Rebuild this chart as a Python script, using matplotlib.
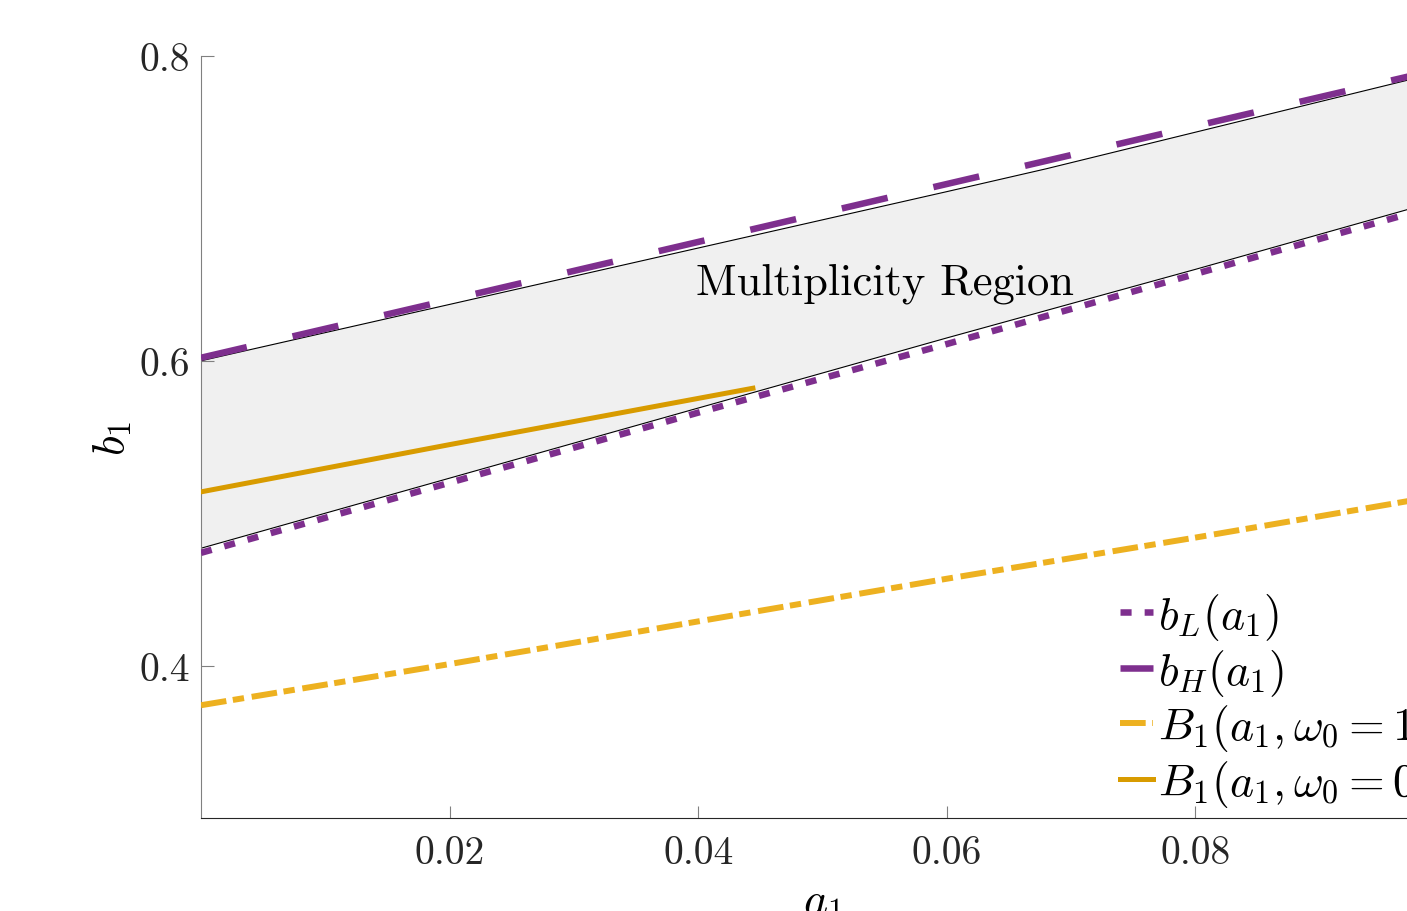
import numpy as np
import matplotlib
matplotlib.use('Agg')
import matplotlib.pyplot as plt

plt.rcParams['font.family'] = 'serif'
plt.rcParams['font.serif'] = ['cmr10', 'DejaVu Serif']
plt.rcParams['mathtext.fontset'] = 'cm'
plt.rcParams['axes.unicode_minus'] = False

# data
a1 = np.array([0.0, 0.02, 0.04, 0.06, 0.08, 0.10])
b_H = np.array([0.602, 0.640, 0.678, 0.716, 0.754, 0.792])
b_L = np.array([0.474, 0.520, 0.566, 0.611, 0.657, 0.703])
B1_w1 = np.array([0.374, 0.401, 0.429, 0.457, 0.484, 0.512])

a1_w0 = np.array([0.0, 0.02, 0.0444])
B1_w0 = np.array([0.514, 0.545, 0.582])

# boundary of the shaded region
a1_up = np.array([0.0, 0.02, 0.04, 0.06, 0.068, 0.08, 0.10])
upper = np.array([0.600, 0.637, 0.674, 0.711, 0.726, 0.750, 0.790])
a1_lo = np.array([0.0, 0.02, 0.04, 0.06, 0.08, 0.10])
lower = np.array([0.477, 0.523, 0.569, 0.615, 0.660, 0.706])

purple = '#7E2F8E'
yellow = '#EDB120'
dark_yellow = '#D89B00'
axc = '#262626'

fig = plt.figure(figsize=(14.07, 9.12), dpi=100)
ax = fig.add_axes([201/1407, 93/912, 1243/1407, 762/912])

poly_x = np.concatenate([a1_up, a1_lo[::-1]])
poly_y = np.concatenate([upper, lower[::-1]])
ax.fill(poly_x, poly_y, color='#F0F0F0', lw=0, zorder=1)
ax.plot(a1_up, upper, color='black', lw=0.8, zorder=2)
ax.plot(a1_lo, lower, color='black', lw=0.8, zorder=2)

l1, = ax.plot(a1, b_L, color=purple, lw=4.7, ls=(0, (1.7, 2.0)),
              dash_capstyle='butt', label=r'$b_L(a_1)$', zorder=3)
l2, = ax.plot(a1, b_H, color=purple, lw=4.7, ls=(0, (7.2, 7.2)),
              dash_capstyle='butt', label=r'$b_H(a_1)$', zorder=3)
l3, = ax.plot(a1, B1_w1, color=yellow, lw=4.3, ls=(0, (4.3, 1.1, 1.9, 1.3)),
              dash_capstyle='butt', label=r'$B_1(a_1,\omega_0=1)$', zorder=3)
l4, = ax.plot(a1_w0, B1_w0, color=dark_yellow, lw=3.6,
              label=r'$B_1(a_1,\omega_0=0)$', zorder=3)

ax.text(0.055, 0.651, 'Multiplicity Region', fontsize=32,
        ha='center', va='center', zorder=4)

ax.set_xlim(0, 0.1)
ax.set_ylim(0.3, 0.8)
ax.set_xticks([0.02, 0.04, 0.06, 0.08])
ax.set_xticklabels(['0.02', '0.04', '0.06', '0.08'])
ax.set_yticks([0.4, 0.6, 0.8])
ax.set_yticklabels(['0.4', '0.6', '0.8'])
ax.tick_params(direction='in', length=9, width=0.8, color='#808080',
               labelsize=28.5, labelcolor=axc, pad=12)
ax.tick_params(axis='y', pad=8)
for s in ['top', 'right']:
    ax.spines[s].set_visible(False)
ax.spines['left'].set_color('#808080')
ax.spines['bottom'].set_color(axc)
ax.set_xlabel(r'$a_1$', fontsize=33, labelpad=8)
ax.set_ylabel(r'$b_1$', fontsize=33, labelpad=4)

ax.legend(handles=[l1, l2, l3, l4], loc='upper left',
          bbox_to_anchor=(1120/1407, 1 - 592/912), bbox_transform=fig.transFigure,
          frameon=False, fontsize=33, handlelength=0.72, handletextpad=0.12,
          labelspacing=0.1, borderaxespad=0, borderpad=0)

fig.savefig('out.png', dpi=100)
